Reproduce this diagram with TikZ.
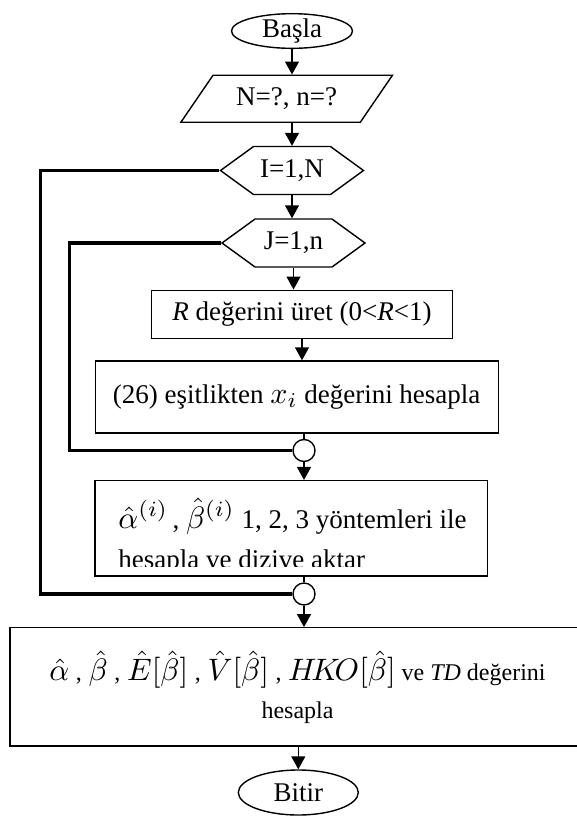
\documentclass[tikz,border=0pt]{standalone}
\usepackage{graphicx}
\usepackage{fontspec}
\setmainfont{Liberation Serif}
\usetikzlibrary{shapes.geometric, shapes.symbols, arrows.meta, positioning, calc}
\newcommand{\eqsz}[2][1.55]{\scalebox{#1}{\fontsize{10}{12}\selectfont$#2$}}

\begin{document}
\begin{tikzpicture}[x=0.5pt, y=-0.5pt, font=\fontsize{13.5}{16}\selectfont,
  term/.style={draw, ellipse, line width=0.7pt, inner sep=0pt},
  iobox/.style={draw, trapezium, trapezium left angle=45, trapezium right angle=135,
    trapezium stretches, line width=0.7pt, inner sep=0pt},
  loopbox/.style={draw, signal, signal to=west and east, signal pointer angle=72,
    line width=0.7pt, inner sep=0pt, minimum width=71.5pt, minimum height=24pt},
  procbox/.style={draw, rectangle, line width=0.7pt, inner sep=0pt},
  joint/.style={draw, circle, line width=0.7pt, minimum size=11pt, inner sep=0pt},
  flow/.style={line width=0.7pt, -{Triangle[length=6.5pt, width=7pt]}},
  link/.style={line width=0.7pt},
  back/.style={line width=1.6pt}]
  \clip (0,0) rectangle (577,816);
  \node[term, minimum width=60.5pt, minimum height=16pt] (start) at (292,31) {Başla};
  \node[iobox, minimum width=106.5pt, minimum height=23.5pt] (input) at (286.7,98.7) {N=?, n=?};
  \node[loopbox] (hexI) at (292,170.5) {I=1,N};
  \node[loopbox] (hexJ) at (293.5,243) {J=1,n};
  \node[procbox, minimum width=150.5pt, minimum height=24pt] (rbox) at (302,314.2)
    {\textit{R} değerini üret (0<\textit{R}<1)};
  \node[procbox, minimum width=201.5pt, minimum height=36pt] (eqbox) at (296.7,397)
    {(26) eşitlikten \eqsz[1.5]{x_i} değerini hesapla};
  \node[joint] (c1) at (304,450.5) {};
  \node[procbox, minimum width=196.35pt, minimum height=47.65pt] (abox) at (291.3,528.3) {};
  \begin{scope}
    \clip (abox.north west) rectangle (abox.east |- 0,566);
    \node[align=left, anchor=north west, inner sep=0pt] (atext) at (118,498)
      {\eqsz{\hat{\alpha}^{(i)}}\,, \eqsz{\hat{\beta}^{(i)}} 1, 2, 3 yöntemleri ile\\[4pt]
       hesapla ve dizive aktar};
  \end{scope}
  \node[joint] (c2) at (304,594) {};
  \node[procbox, minimum width=287.5pt, minimum height=59.15pt, align=center,
    font=\fontsize{12}{19}\selectfont] (fbox) at (297.5,686.9)
    {\eqsz{\hat{\alpha}}\;,\;\eqsz{\hat{\beta}}\;,\;\eqsz{\hat{E}[\hat{\beta}]}\;,\;%
     \eqsz{\hat{V}[\hat{\beta}]}\;,\;\eqsz{H\!K\!O[\hat{\beta}]} ve \textit{TD} değerini\\
     hesapla};
  \node[term, minimum width=60pt, minimum height=22.5pt] (end) at (298.3,792.5) {Bitir};

  \draw[flow] (start.south) -- (start.south |- input.north);
  \draw[flow] (input.south -| hexI) -- (hexI.north);
  \draw[flow] (hexI.south) -- (hexI.south |- hexJ.north);
  \draw[flow] (hexJ.south) -- (hexJ.south |- rbox.north);
  \draw[flow] (rbox.south) -- (rbox.south |- eqbox.north);
  \draw[link] (eqbox.south -| c1) -- (c1.north);
  \draw[flow] (c1.south) -- (c1.south |- abox.north);
  \draw[link] (abox.south -| c2) -- (c2.north);
  \draw[flow] (c2.south) -- (c2.south |- fbox.north);
  \draw[flow] (fbox.south -| end) -- (end.north);
  \draw[back] (hexI.west) -- ++(-179,0) |- (c2.west);
  \draw[back] (hexJ.west) -- ++(-151,0) |- (c1.west);
\end{tikzpicture}
\end{document}
